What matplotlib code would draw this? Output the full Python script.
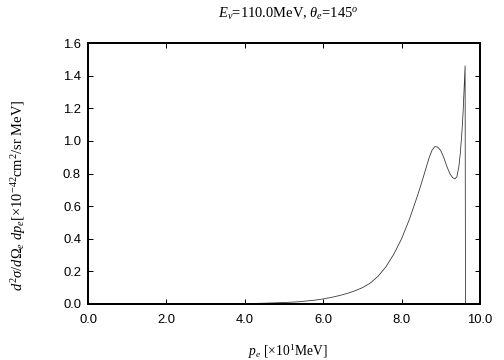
import matplotlib
matplotlib.use('Agg')
import matplotlib.pyplot as plt
import numpy as np

plt.rcParams['mathtext.fontset'] = 'custom'
plt.rcParams['mathtext.rm'] = 'Liberation Serif'
plt.rcParams['mathtext.it'] = 'Liberation Serif:italic'
plt.rcParams['mathtext.bf'] = 'Liberation Serif:bold'

# electron momentum [x10 MeV] and cross section [x1e-42 cm^2/sr MeV]
pe = [4.0, 4.5, 5.0, 5.4, 5.8, 6.0, 6.2, 6.4, 6.6, 6.8, 7.0, 7.2, 7.4, 7.6,
      7.8, 8.0, 8.2, 8.4, 8.5, 8.6, 8.7, 8.78, 8.85, 8.92, 9.0, 9.08, 9.16,
      9.23, 9.3, 9.36, 9.41, 9.46, 9.5, 9.54, 9.57, 9.6, 9.62, 9.625, 9.63]
xs = [0.002, 0.005, 0.009, 0.014, 0.024, 0.031, 0.040, 0.051, 0.064, 0.080,
      0.100, 0.128, 0.170, 0.228, 0.305, 0.40, 0.52, 0.66, 0.735, 0.815,
      0.895, 0.945, 0.965, 0.962, 0.94, 0.895, 0.84, 0.80, 0.775, 0.767,
      0.78, 0.84, 0.93, 1.06, 1.18, 1.35, 1.46, 0.70, 0.0]

fig = plt.figure(figsize=(7, 5), dpi=72)
ax = fig.add_axes([88/504, 56/360, 392/504, 261/360])

ax.plot(pe, xs, color='#333333', lw=0.8)

ax.set_xlim(0, 10)
ax.set_ylim(0, 1.6)
ax.set_xticks(np.arange(0, 10.1, 2))
ax.set_xticklabels(['%.1f' % v for v in np.arange(0, 10.1, 2)])
ax.set_yticks(np.arange(0, 1.61, 0.2))
ax.set_yticklabels(['%.1f' % v for v in np.arange(0, 1.61, 0.2)])
ax.tick_params(direction='in', top=True, right=True, length=5, width=1,
               labelsize=13, pad=7)
ax.tick_params(axis='x', pad=10)
for lab in ax.get_xticklabels() + ax.get_yticklabels():
    lab.set_fontfamily('Liberation Sans')
for s in ax.spines.values():
    s.set_linewidth(2)

fig.text(288/504, 1 - 14/360, r'$E_\nu$=110.0MeV, $\theta_e$=145$^o$',
         ha='center', va='center', fontsize=14.5, family='Liberation Serif')
fig.text(288/504, 1 - 352/360, r'$p_e$ [$\times$10$^1$MeV]',
         ha='center', va='center', fontsize=13.5, family='Liberation Serif')
fig.text(19/504, 1 - 195/360,
         r'$d^2\sigma/d\Omega_e\ dp_e$[$\times$10$^{-42}$cm$^2$/sr MeV]',
         ha='center', va='center', rotation=90, fontsize=14.5,
         family='Liberation Serif')

plt.savefig('out.png', dpi=72)
